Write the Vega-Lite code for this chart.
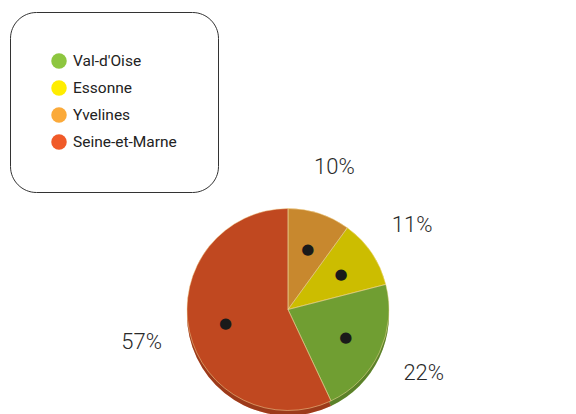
{
  "$schema": "https://vega.github.io/schema/vega-lite/v6.json",
  "width": 576,
  "height": 209,
  "autosize": "none",
  "padding": {"top": 205, "left": 0, "right": 0, "bottom": 0},
  "background": "white",
  "data": {
    "values": [
      {"region": "Yvelines", "share": 10, "label": "10%", "pos": 1},
      {"region": "Essonne", "share": 11, "label": "11%", "pos": 2},
      {"region": "Val-d'Oise", "share": 22, "label": "22%", "pos": 3},
      {"region": "Seine-et-Marne", "share": 57, "label": "57%", "pos": 4}
    ]
  },
  "encoding": {
    "theta": {"field": "share", "type": "quantitative", "stack": true},
    "order": {"field": "pos", "type": "ordinal"}
  },
  "layer": [
    {
      "mark": {"type": "arc", "outerRadius": 101, "yOffset": 5},
      "encoding": {
        "color": {
          "field": "region", "type": "nominal", "title": null,
          "scale": {
            "domain": ["Val-d'Oise", "Essonne", "Yvelines", "Seine-et-Marne"],
            "range": ["#8DC63F", "#FFED00", "#FBAA3A", "#F05A28"]
          }
        }
      }
    },
    {
      "mark": {"type": "arc", "outerRadius": 101, "yOffset": 5, "fill": "black", "fillOpacity": 0.35}
    },
    {
      "mark": {"type": "arc", "outerRadius": 101},
      "encoding": {
        "color": {
          "field": "region", "type": "nominal", "title": null,
          "scale": {
            "domain": ["Val-d'Oise", "Essonne", "Yvelines", "Seine-et-Marne"],
            "range": ["#8DC63F", "#FFED00", "#FBAA3A", "#F05A28"]
          }
        }
      }
    },
    {
      "mark": {"type": "arc", "outerRadius": 101, "fill": "black", "fillOpacity": 0.2, "stroke": "#f5dca0", "strokeWidth": 0.7, "strokeOpacity": 0.7}
    },
    {
      "mark": {"type": "text", "radius": 64, "text": "●", "fontSize": 15, "font": "DejaVu Sans", "color": "#1a1a1a", "baseline": "middle", "align": "center"}
    },
    {
      "mark": {"type": "text", "radius": 150, "fontSize": 22, "font": "Roboto", "fontWeight": 300, "color": "#2a2a2a", "baseline": "middle", "align": "center"},
      "encoding": {"text": {"field": "label", "type": "nominal"}}
    }
  ],
  "config": {
    "view": {"stroke": null},
    "legend": {
      "orient": "none",
      "legendX": 10,
      "legendY": -193,
      "padding": 41,
      "strokeColor": "#333333",
      "cornerRadius": 26,
      "symbolType": "circle",
      "symbolSize": 240,
      "symbolStrokeWidth": 0,
      "symbolOpacity": 1,
      "labelFont": "Roboto",
      "labelFontSize": 15.5,
      "labelColor": "#222222",
      "rowPadding": 10,
      "labelOffset": 6
    }
  }
}
